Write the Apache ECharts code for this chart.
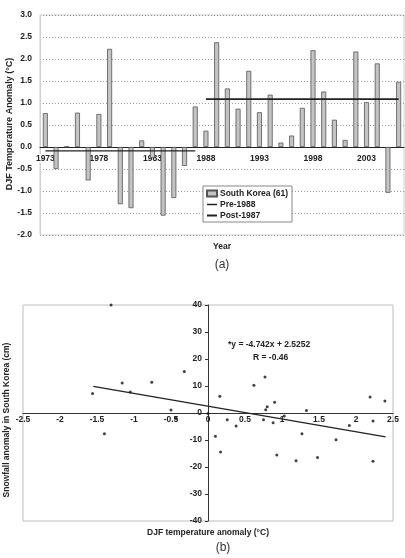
<!DOCTYPE html>
<html>
<head>
<meta charset="utf-8">
<script src="https://cdn.jsdelivr.net/npm/echarts@6/dist/echarts.min.js"></script>
<style>
  html, body { margin: 0; padding: 0; background: #fff; }
  #chart { width: 405px; height: 558px; }
</style>
</head>
<body>
<div id="chart"></div>
<script>
// (a) datos de anomalía DJF por año
const years = [];
for (let y = 1973; y <= 2006; y++) years.push(String(y));
const anomalies = [0.77, -0.50, 0.01, 0.78, -0.76, 0.75, 2.23, -1.30, -1.39, 0.15,
  -0.25, -1.56, -1.16, -0.43, 0.92, 0.37, 2.38, 1.33, 0.87, 1.73,
  0.79, 1.19, 0.10, 0.26, 0.89, 2.20, 1.26, 0.62, 0.16, 2.17,
  1.02, 1.90, -1.04, 1.48];
const preMean = [['1973', -0.09], ['1987', -0.09]];
const postMean = [['1988', 1.09], ['2006', 1.09]];

// (b) dispersión temperatura vs nieve
const scatterPts = [
  [-1.31, 40], [-1.56, 7.2], [-1.16, 11.1], [-1.05, 7.8], [-0.76, 11.4],
  [-0.32, 15.4], [-0.50, 1.1], [-0.43, -1.9], [-1.40, -7.7], [0.0, -0.2],
  [0.10, -8.6], [0.16, 6.2], [0.17, -14.4], [0.26, -2.5], [0.38, -4.8],
  [0.62, 10.3], [0.75, -2.5], [0.77, 13.3], [0.78, 1.2], [0.80, 2.3],
  [0.88, -3.6], [0.90, 4.0], [0.93, -15.6], [1.03, -1.1], [1.19, -17.7],
  [1.27, -7.7], [1.33, 0.9], [1.48, -16.5], [1.73, -9.9], [1.91, -4.6],
  [2.19, 5.9], [2.23, -3.0], [2.23, -17.9], [2.39, 4.4]
];
const trendX = [-1.55, 2.40];
const trendY = [9.88, -8.86];

const font = 'Liberation Sans, Arial, sans-serif';
const lbl = { color: '#222', fontFamily: font, fontWeight: 'bold', fontSize: 8.5 };

// Tamaños de las dos rejillas
const gA = { left: 40, top: 15, width: 364, height: 220 };
const gB = { left: 23, top: 305, width: 370, height: 216 };
// desplazamientos para llevar los ejes al cero
const offA = -gA.height * 2 / 5;   // eje x de (a) en y = 0
const offBx = -gB.height / 2;      // eje x de (b) en y = 0
const offBy = -gB.width / 2;       // eje y de (b) en x = 0

const chart = echarts.init(document.getElementById('chart'), null, { renderer: 'canvas' });

const option = {
  animation: false,
  backgroundColor: '#fff',
  grid: [
    Object.assign({ show: true, borderColor: '#d0d0d0', borderWidth: 1 }, gA),
    Object.assign({ show: true, borderColor: '#bdbdbd', borderWidth: 1 }, gB)
  ],
  xAxis: [
    {
      type: 'category', gridIndex: 0, data: years, offset: offA,
      axisLine: { onZero: false, lineStyle: { color: '#222', width: 1 } },
      axisTick: { show: false },
      axisLabel: Object.assign({ interval: 4, margin: 7, backgroundColor: '#fff' }, lbl),
      splitLine: { show: false }
    },
    {
      type: 'value', gridIndex: 1, min: -2.5, max: 2.5, interval: 0.5, offset: offBx,
      axisLine: { onZero: false, lineStyle: { color: '#333', width: 1 } },
      axisTick: { show: false },
      axisLabel: Object.assign({ margin: 2 }, lbl),
      splitLine: { show: false }
    }
  ],
  yAxis: [
    {
      type: 'value', gridIndex: 0, min: -2, max: 3, interval: 0.5,
      axisLine: { show: true, onZero: false, lineStyle: { color: '#d0d0d0' } },
      axisTick: { show: false },
      axisLabel: Object.assign({ margin: 8, formatter: v => v.toFixed(1) }, lbl),
      splitLine: { show: true, lineStyle: { color: '#999', type: [1, 2], width: 1 } }
    },
    {
      type: 'value', gridIndex: 1, min: -40, max: 40, interval: 10, offset: offBy,
      axisLine: { onZero: false, lineStyle: { color: '#333', width: 1 } },
      axisTick: { show: true, length: 3, lineStyle: { color: '#333' } },
      axisLabel: Object.assign({ margin: 6 }, lbl),
      splitLine: { show: false }
    }
  ],
  legend: {
    data: [
      { name: 'South Korea (61)', icon: 'rect' },
      { name: 'Pre-1988', icon: 'path://M0,0 H20 V3 H0 Z' },
      { name: 'Post-1987', icon: 'path://M0,0 H20 V4 H0 Z' }
    ],
    orient: 'vertical',
    left: 203, top: 186,
    backgroundColor: '#fff',
    borderColor: '#888', borderWidth: 1,
    padding: [3, 4, 2, 3],
    itemGap: 2,
    itemWidth: 10, itemHeight: 6,
    textStyle: { color: '#222', fontFamily: font, fontWeight: 'bold', fontSize: 8.5, padding: [0, 0, 0, -2] }
  },
  series: [
    {
      name: 'South Korea (61)', type: 'bar', xAxisIndex: 0, yAxisIndex: 0,
      data: anomalies, barWidth: 5,
      itemStyle: { color: '#c4c4c4', borderColor: '#555', borderWidth: 0.8 }
    },
    {
      name: 'Pre-1988', type: 'line', xAxisIndex: 0, yAxisIndex: 0,
      data: preMean, symbol: 'none', z: 5,
      lineStyle: { color: '#222', width: 1.2 }, itemStyle: { color: '#222' }
    },
    {
      name: 'Post-1987', type: 'line', xAxisIndex: 0, yAxisIndex: 0,
      data: postMean, symbol: 'none', z: 5,
      lineStyle: { color: '#222', width: 1.8 }, itemStyle: { color: '#222' }
    },
    {
      name: 'snow', type: 'scatter', xAxisIndex: 1, yAxisIndex: 1,
      data: scatterPts, symbolSize: 3,
      itemStyle: { color: '#111' }
    },
    {
      name: 'trend', type: 'line', xAxisIndex: 1, yAxisIndex: 1,
      data: trendX.map((x, i) => [x, trendY[i]]), symbol: 'none',
      lineStyle: { color: '#222', width: 1.3 }
    }
  ],
  graphic: [
    { type: 'text', x: 10, y: 124, rotation: Math.PI / 2,
      style: { text: 'DJF Temperature Anomaly (°C)', fill: '#222', font: 'bold 9px ' + font, align: 'center', verticalAlign: 'middle' } },
    { type: 'text', x: 222, y: 247,
      style: { text: 'Year', fill: '#222', font: 'bold 8.5px ' + font, align: 'center', verticalAlign: 'middle' } },
    { type: 'text', x: 222, y: 265,
      style: { text: '(a)', fill: '#333', font: '12px ' + font, align: 'center', verticalAlign: 'middle' } },
    { type: 'text', x: 7, y: 420, rotation: Math.PI / 2,
      style: { text: 'Snowfall anomaly in South Korea (cm)', fill: '#222', font: 'bold 8.5px ' + font, align: 'center', verticalAlign: 'middle' } },
    { type: 'text', x: 208, y: 533,
      style: { text: 'DJF temperature anomaly (°C)', fill: '#222', font: 'bold 8.5px ' + font, align: 'center', verticalAlign: 'middle' } },
    { type: 'text', x: 223, y: 548,
      style: { text: '(b)', fill: '#333', font: '12px ' + font, align: 'center', verticalAlign: 'middle' } },
    { type: 'text', x: 228, y: 345,
      style: { text: '*y = -4.742x + 2.5252', fill: '#222', font: 'bold 8.5px ' + font, align: 'left', verticalAlign: 'middle' } },
    { type: 'text', x: 253, y: 358,
      style: { text: 'R = -0.46', fill: '#222', font: 'bold 8.5px ' + font, align: 'left', verticalAlign: 'middle' } }
  ]
};

chart.setOption(option);
</script>
</body>
</html>
